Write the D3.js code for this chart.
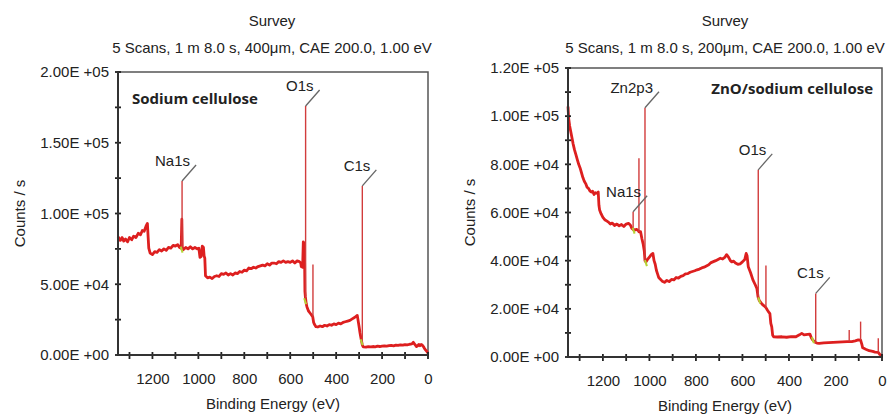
<!DOCTYPE html>
<html>
<head>
<meta charset="utf-8">
<script src="https://cdn.jsdelivr.net/npm/d3@7"></script>
<style>
  body { margin: 0; background: #fff; }
  text { font-family: "Liberation Sans", Arial, sans-serif; fill: #222; }
</style>
</head>
<body>
<svg id="chart" width="890" height="414"></svg>
<script>
// ---------------------------------------------
// XPS survey spectra, two panels
// values (counts in k)
// ---------------------------------------------

var energyTicks = [0, 100, 200, 300, 400, 500, 600, 700, 800, 900, 1000, 1100, 1200, 1300];
var energyLabels = [0, 200, 400, 600, 800, 1000, 1200];

var leftTitle = ["Survey", "5 Scans, 1 m 8.0 s, 400\u03bcm, CAE 200.0, 1.00 eV"];
var rightTitle = ["Survey", "5 Scans, 1 m 8.0 s, 200\u03bcm, CAE 200.0, 1.00 eV"];

var leftYTicks = [0, 25, 50, 75, 100, 125, 150, 175, 200];
var leftYLabels = [0, 50, 100, 150, 200];
var rightYTicks = [0, 10, 20, 30, 40, 50, 60, 70, 80, 90, 100, 110, 120];
var rightYLabels = [0, 20, 40, 60, 80, 100, 120];

// [binding energy eV, counts/s in thousands]
var leftSpectrum = [
  [1350,83.5],[1340,81],[1332,83],[1325,80.5],[1317,82],[1308,80],[1300,83],[1290,81.5],
  [1282,84],[1272,83],[1262,86],[1252,85],[1244,88],[1236,87.5],[1228,91],[1222,93],
  [1219,84],[1216,75.5],[1210,72],[1200,71],[1190,73],[1180,72.5],[1170,74.5],[1160,73.5],
  [1150,75],[1140,74],[1130,76],[1120,75.5],[1110,77.5],[1100,77],[1090,78],[1082,76],
  [1075,75.5],[1072,96],[1070,76],[1065,74.5],[1055,76],[1045,75],[1035,76.5],[1025,75],
  [1015,76],[1005,75],[998,75.5],[993,69],[988,69.5],[983,77],[978,76],[975,70],
  [972,68.5],[969,56],[960,54.5],[950,55],[940,54],[930,55.5],[920,56],[910,55.5],
  [900,57.5],[890,57],[880,58],[870,56.5],[860,57.5],[850,56.5],[840,58],[830,57.5],
  [820,59],[810,58.5],[800,60],[790,59.5],[780,61.5],[770,61],[760,62],[750,61.5],
  [740,62.5],[730,63],[720,63.5],[710,63],[700,64.5],[690,63.5],[680,65],[670,65],
  [660,64.5],[650,66],[640,65.5],[630,66.5],[620,65.5],[610,66],[600,65.5],[590,66.5],
  [580,65],[570,66.5],[560,66],[554,65],[552,62.5],[546,62],[543,80],[538,78],
  [536,45],[534,41],[530,36],[527,34],[520,31],[513,29.5],[506,28],[502,27],
  [498,23],[494,21.5],[488,20],[480,19.8],[470,20.5],[460,20],[450,21],[440,20.5],
  [430,21.5],[420,21],[410,22],[400,21.5],[390,22.5],[380,22],[370,23],[360,23.5],
  [350,24],[340,24.5],[330,25.5],[320,26.5],[312,27.5],[308,28],[305,25],[300,20],
  [296,15.5],[292,12],[289,9.5],[286,7],[282,5.8],[270,5.6],[260,5.9],[250,5.7],
  [240,6],[230,5.8],[220,6.2],[210,6],[200,6.3],[190,6.5],[180,6.3],[170,6.6],
  [160,6.8],[150,6.5],[140,7],[130,6.8],[120,7.2],[110,7],[100,7.4],[90,7.2],
  [80,7.6],[70,7.8],[64,9],[60,8],[55,7],[50,6],[45,6.5],[40,7.5],[35,6.6],[30,7.4],
  [25,7],[20,6],[15,4.5],[10,3.5],[5,2.5],[2,1.8],[0,1.5]
];

var rightSpectrum = [
  [1350,104],[1347,99],[1343,96],[1338,93.5],[1333,91],[1328,88.5],[1322,86],[1316,84],
  [1310,82],[1304,80],[1298,78.5],[1292,76.5],[1286,74.5],[1280,73],[1274,72],[1268,70.5],
  [1262,70],[1256,69],[1250,68.5],[1244,68.8],[1238,67.5],[1232,68.2],[1226,68],[1220,68.5],
  [1217,63],[1214,61],[1208,59.5],[1200,58],[1192,57],[1184,56.5],[1176,56],[1168,55.2],
  [1160,55.6],[1150,54.6],[1140,55.2],[1130,54.5],[1120,55],[1110,54.2],[1100,55.2],[1090,55.5],
  [1082,54.8],[1076,53.5],[1070,53],[1062,52.7],[1055,53],[1048,52.5],[1045,52],[1038,52],
  [1032,49],[1027,47],[1022,44],[1019,40],[1015,39.5],[1008,40.5],[1000,41.5],[992,42.5],
  [985,43],[980,40],[975,38.5],[970,36],[965,34.5],[960,33],[955,32.5],[945,31.5],
  [935,31],[925,31.8],[915,31.3],[905,32.2],[895,32],[885,33],[875,32.8],[865,33.5],
  [855,33.8],[845,34.5],[835,34.6],[825,35.2],[815,35.5],[805,35.8],[795,36.2],[785,36.5],
  [775,37],[765,37.3],[755,37.8],[745,38.3],[735,39.2],[725,39.6],[715,40],[705,40.5],
  [695,41],[685,40.7],[675,41.5],[668,42.5],[660,41.5],[652,40],[646,39.5],[638,39.8],
  [630,39],[620,38.5],[610,38.7],[600,39.5],[590,40.5],[584,43],[580,42],[575,37.5],
  [565,35],[555,32],[545,30],[538,28.5],[533,25],[528,23.5],[520,22.5],[511,21.5],
  [504,21],[499,20.5],[493,19.5],[486,18.5],[482,18],[478,14],[474,12.5],[470,9],
  [466,8.4],[450,8.3],[430,8.4],[410,8.2],[390,8.5],[370,8.4],[355,9.2],[345,9.8],
  [335,9.2],[320,9.4],[310,9.5],[304,8],[298,7.1],[290,6.3],[285,6],[280,5.8],
  [270,5.7],[250,5.9],[230,6],[210,6.1],[190,6.2],[170,6.3],[150,6.4],[141,6.4],
  [130,6.4],[115,6.7],[102,7.1],[92,7],[86,5],[83,3.8],[70,3.2],[55,2.6],[40,2.3],
  [30,2],[16,1.9],[9,1],[5,0.8],[0,0.5]
];

// [energy, base, top] narrow lines
var leftSpikes = [[1071,75,123],[533,40,176],[501,27,64],[286,7,119.5]];
var rightSpikes = [[1070,53,60.3],[1045,52,82.5],[1019,40,103.5],[532,25,77.7],
  [499,20.5,38],[285,6,26.4],[141,6.4,11.2],[92,7,14.7],[16,1.9,7.8]];

// [name, energy, peak top]
var leftPeaks = [["Na1s",1071,123],["O1s",533,176],["C1s",286,119.5]];
var rightPeaks = [["Na1s",1070,60.3],["Zn2p3",1019,103.5],["O1s",532,77.7],["C1s",285,26.4]];

// small yellow-green marks on the trace
var leftGreen = [[1073,74.5],[535,38],[289,9]];
var rightGreen = [[1068,52.5],[1015,39],[528,23.5],[297,7]];

var svg = d3.select("#chart");
var FS = "15px";

function fmtE(v){
  var n = v*1000;
  if (n == 0) return "0.00E +00";
  var e = Math.floor(Math.log10(n));
  var m = n/Math.pow(10,e);
  return m.toFixed(2)+"E +"+(e<10?"0":"")+e;
}

function drawPanel(cfg){
  var g = svg.append("g").attr("transform","translate("+cfg.left+","+cfg.top+")");
  var x = d3.scaleLinear().domain([1350,0]).range([0,cfg.width]);
  var y = d3.scaleLinear().domain([0,cfg.yMax]).range([cfg.height,0]);

  // titles
  svg.append("text").attr("x",cfg.cx).attr("y",26).attr("text-anchor","middle")
    .style("font-size",FS).text(cfg.title[0]);
  svg.append("text").attr("x",cfg.cx).attr("y",53).attr("text-anchor","middle")
    .style("font-size",FS).text(cfg.title[1]);

  // frame
  g.append("rect").attr("width",cfg.width).attr("height",cfg.height)
    .attr("fill","none").attr("stroke","#555").attr("stroke-width",1.5);

  // spectrum
  var line = d3.line().x(function(d){return x(d[0]);}).y(function(d){return y(d[1]);});
  g.append("path").datum(cfg.spectrum).attr("d",line)
    .attr("fill","none").attr("stroke","#dd1f1f").attr("stroke-width",2.8)
    .attr("stroke-linejoin","round");

  g.selectAll(".spike").data(cfg.spikes).enter().append("line")
    .attr("x1",function(d){return x(d[0]);}).attr("x2",function(d){return x(d[0]);})
    .attr("y1",function(d){return y(d[1]);}).attr("y2",function(d){return y(d[2]);})
    .attr("stroke","#d23c3c").attr("stroke-width",1.4);

  g.selectAll(".green").data(cfg.green).enter().append("line")
    .attr("x1",function(d){return x(d[0])-1;}).attr("x2",function(d){return x(d[0])+1;})
    .attr("y1",function(d){return y(d[1])-3;}).attr("y2",function(d){return y(d[1])+3;})
    .attr("stroke","#b5d334").attr("stroke-width",2);

  // peak labels with leader lines
  cfg.peaks.forEach(function(p){
    var px = x(p[1]), py = y(p[2]);
    g.append("line").attr("x1",px).attr("y1",py).attr("x2",px+14).attr("y2",py-16)
      .attr("stroke","#666").attr("stroke-width",1.3);
    g.append("text").attr("x",px+8).attr("y",py-15).attr("text-anchor","end")
      .style("font-size",FS).text(p[0]);
  });

  // axes
  var xAxis = d3.axisBottom(x).tickValues(energyLabels).tickSize(0).tickPadding(18)
    .tickFormat(d3.format("d"));
  var gx = g.append("g").attr("transform","translate(0,"+cfg.height+")").call(xAxis);
  gx.select(".domain").remove();
  gx.selectAll("text").style("font-size",FS).style("font-family","Liberation Sans, Arial, sans-serif").attr("fill","#222");
  gx.selectAll(".tickmark").data(energyTicks).enter().append("line")
    .attr("x1",function(d){return x(d);}).attr("x2",function(d){return x(d);})
    .attr("y1",-3).attr("y2",4).attr("stroke","#222").attr("stroke-width",1.8);

  var yAxis = d3.axisLeft(y).tickValues(cfg.yLabels).tickSize(0).tickPadding(9).tickFormat(fmtE);
  var gy = g.append("g").call(yAxis);
  gy.select(".domain").remove();
  gy.selectAll("text").style("font-size",FS).style("font-family","Liberation Sans, Arial, sans-serif").attr("fill","#222");
  gy.selectAll(".tickmark").data(cfg.yTicks).enter().append("line")
    .attr("y1",function(d){return y(d);}).attr("y2",function(d){return y(d);})
    .attr("x1",-3).attr("x2",3).attr("stroke","#222").attr("stroke-width",1.8);

  g.append("line").attr("x1",0).attr("x2",0).attr("y1",0).attr("y2",cfg.height)
    .attr("stroke","#333").attr("stroke-width",2);
  g.append("line").attr("x1",0).attr("x2",cfg.width).attr("y1",cfg.height).attr("y2",cfg.height)
    .attr("stroke","#333").attr("stroke-width",2);

  // axis titles
  g.append("text").attr("x",cfg.width/2).attr("y",cfg.height+54).attr("text-anchor","middle")
    .style("font-size",FS).text("Binding Energy (eV)");
  g.append("text").attr("transform","translate("+(cfg.yTitleX-cfg.left)+","+(cfg.height/2)+") rotate(-90)")
    .attr("text-anchor","middle").style("font-size",FS).text("Counts / s");

  // sample name
  g.append("text").attr("x",cfg.nameX-cfg.left).attr("y",cfg.nameY-cfg.top)
    .attr("text-anchor",cfg.nameAnchor)
    .style("font-family","'Open Sans', sans-serif").style("font-weight","bold").style("font-size","15px")
    .text(cfg.name);
}

drawPanel({
  left:118, top:72, width:310, height:283, cx:272, yMax:200,
  title:leftTitle, spectrum:leftSpectrum, spikes:leftSpikes, peaks:leftPeaks, green:leftGreen,
  yTicks:leftYTicks, yLabels:leftYLabels, yTitleX:25,
  name:"Sodium cellulose", nameX:132, nameY:104, nameAnchor:"start"
});

drawPanel({
  left:568, top:68, width:314, height:289, cx:725, yMax:120,
  title:rightTitle, spectrum:rightSpectrum, spikes:rightSpikes, peaks:rightPeaks, green:rightGreen,
  yTicks:rightYTicks, yLabels:rightYLabels, yTitleX:475,
  name:"ZnO/sodium cellulose", nameX:873, nameY:94, nameAnchor:"end"
});
</script>
</body>
</html>
